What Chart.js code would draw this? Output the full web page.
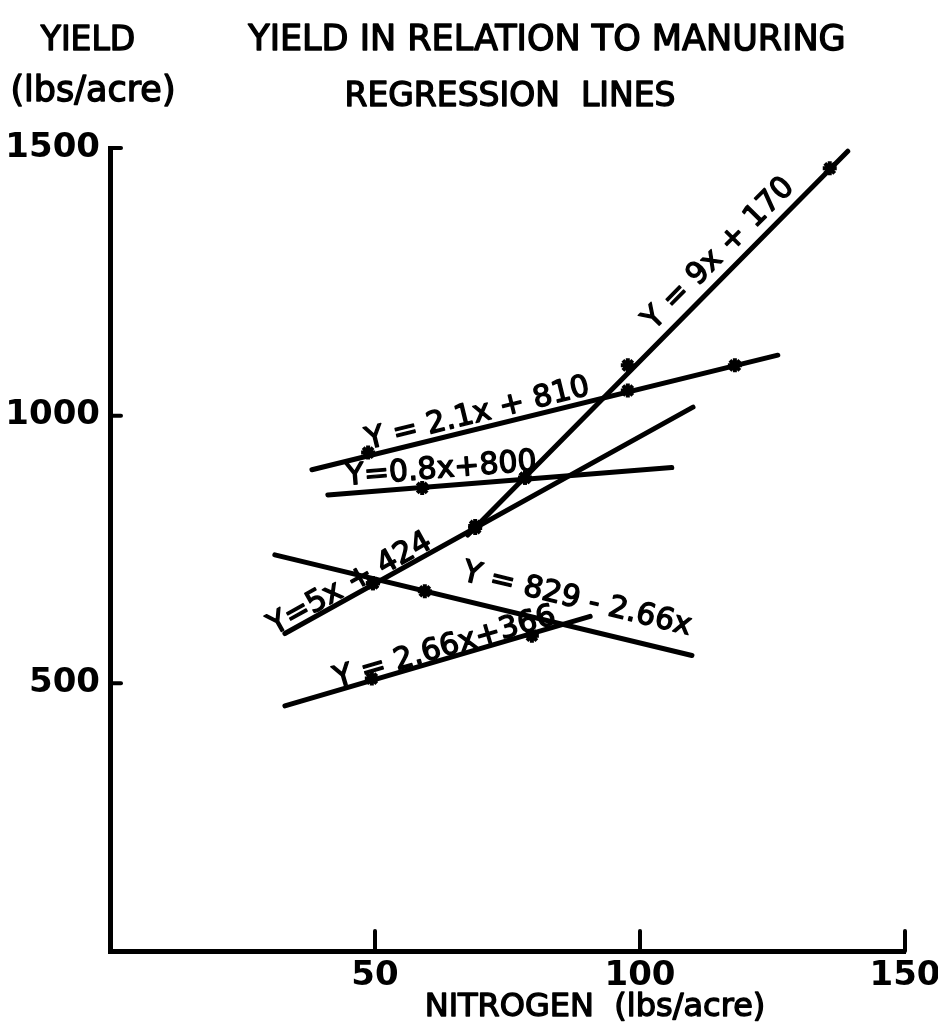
<!DOCTYPE html>
<html>
<head>
<meta charset="utf-8">
<title>Yield in relation to manuring</title>
<script src="https://cdn.jsdelivr.net/npm/chart.js@4.4.1/dist/chart.umd.min.js"></script>
<style>
    html, body { margin: 0; padding: 0; background: #fff; }
    #wrap { width: 938px; height: 1032px; }
</style>
</head>
<body>
<div id="wrap"><canvas id="chart" width="938" height="1032"></canvas></div>
<script>
// Graduations des axes
const xTicks = [50, 100, 150];
const yTicks = [500, 1000, 1500];

const line9x = [{x: 67.5, y: 777}, {x: 139.2, y: 1494}];
const pts9x = [{x: 68.9, y: 794}, {x: 78.3, y: 884}, {x: 97.7, y: 1094}, {x: 135.8, y: 1462}];

const line21x = [{x: 38.1, y: 899}, {x: 126.0, y: 1113}];
const pts21x = [{x: 48.7, y: 931}, {x: 97.7, y: 1047}, {x: 117.9, y: 1094}];

const line08x = [{x: 41.1, y: 852}, {x: 106.0, y: 903}];
const pts08x = [{x: 58.9, y: 865}, {x: 78.3, y: 884}];

const line5x = [{x: 33.0, y: 593}, {x: 110.0, y: 1016}];
const pts5x = [{x: 49.6, y: 687}, {x: 68.9, y: 790}];

const line829 = [{x: 31.1, y: 740}, {x: 109.8, y: 552}];
const pts829 = [{x: 49.6, y: 687}, {x: 59.4, y: 672}];

const line266x = [{x: 33.0, y: 458}, {x: 90.6, y: 625}];
const pts266x = [{x: 49.4, y: 509}, {x: 79.6, y: 589}];

// Equations écrites le long des droites (centre du texte en coordonnées des données)
const lineLabels = [
    {text: 'Y = 9x + 170', x: 114.9, y: 1302, line: line9x},
    {text: 'Y = 2.1x + 810', x: 69.4, y: 1003, line: line21x},
    {text: 'Y=0.8x+800', x: 62.5, y: 899, line: line08x},
    {text: 'Y=5x + 424', x: 45.3, y: 685, line: line5x},
    {text: 'Y = 829 - 2.66x', x: 88.1, y: 656, line: line829},
    {text: 'Y = 2.66x+366', x: 63.2, y: 566, line: line266x}
];

const FONT = '"DejaVu Sans", "Liberation Sans", sans-serif';

function lineDataset(data) {
    return {
        data: data,
        showLine: true,
        borderColor: '#000',
        borderWidth: 5,
        borderCapStyle: 'round',
        pointRadius: 0
    };
}

function pointDataset(data) {
    return {
        data: data,
        showLine: false,
        pointStyle: 'star',
        pointRadius: 7,
        borderColor: '#000',
        backgroundColor: '#000',
        pointBorderWidth: 4
    };
}

// texte un peu épaissi, comme le lettrage au normographe
function drawText(c, text, x, y) {
    c.fillText(text, x, y);
    c.strokeText(text, x, y);
}

// Textes, repères et équations dessinés sur le canevas
const textPlugin = {
    id: 'textPlugin',
    afterDraw(chart) {
        const c = chart.ctx;
        const xs = chart.scales.x;
        const ys = chart.scales.y;
        const area = chart.chartArea;

        c.save();
        c.fillStyle = '#000';
        c.strokeStyle = '#000';
        c.lineCap = 'round';
        c.lineJoin = 'round';

        // petits repères vers l'intérieur
        c.lineWidth = 4;
        yTicks.forEach(v => {
            const py = ys.getPixelForValue(v);
            c.beginPath();
            c.moveTo(area.left, py);
            c.lineTo(area.left + 11, py);
            c.stroke();
        });
        xTicks.forEach(v => {
            const px = xs.getPixelForValue(v);
            c.beginPath();
            c.moveTo(px, area.bottom);
            c.lineTo(px, area.bottom - 20);
            c.stroke();
        });

        // titres
        c.lineWidth = 1.4;
        c.textAlign = 'center';
        c.textBaseline = 'middle';
        c.font = '33px ' + FONT;
        drawText(c, 'YIELD', 88, 41);
        drawText(c, 'REGRESSION  LINES', 510, 97);
        c.font = '35px ' + FONT;
        drawText(c, 'YIELD IN RELATION TO MANURING', 547, 41);
        drawText(c, '(lbs/acre)', 93, 92);
        c.font = '32px ' + FONT;
        drawText(c, 'NITROGEN  (lbs/acre)', 595, 1008);

        // équations
        c.font = '30px ' + FONT;
        lineLabels.forEach(l => {
            const x1 = xs.getPixelForValue(l.line[0].x);
            const y1 = ys.getPixelForValue(l.line[0].y);
            const x2 = xs.getPixelForValue(l.line[1].x);
            const y2 = ys.getPixelForValue(l.line[1].y);
            const angle = Math.atan2(y2 - y1, x2 - x1);
            c.save();
            c.translate(xs.getPixelForValue(l.x), ys.getPixelForValue(l.y));
            c.rotate(angle);
            drawText(c, l.text, 0, 0);
            c.restore();
        });
        c.restore();
    }
};

new Chart(document.getElementById('chart'), {
    type: 'scatter',
    data: {
        datasets: [
            lineDataset(line9x), lineDataset(line21x), lineDataset(line08x),
            lineDataset(line5x), lineDataset(line829), lineDataset(line266x),
            pointDataset(pts9x), pointDataset(pts21x), pointDataset(pts08x),
            pointDataset(pts5x), pointDataset(pts829), pointDataset(pts266x)
        ]
    },
    options: {
        responsive: false,
        animation: false,
        layout: { padding: { top: 148, right: 33, left: 0, bottom: 0 } },
        plugins: {
            legend: { display: false },
            tooltip: { enabled: false }
        },
        scales: {
            x: {
                type: 'linear',
                min: 0,
                max: 150,
                afterBuildTicks: s => { s.ticks = xTicks.map(v => ({value: v})); },
                afterFit: s => { s.height = 81; s.paddingLeft = 0; s.paddingRight = 0; },
                grid: { display: false, drawTicks: false },
                border: { display: true, color: '#000', width: 5 },
                ticks: {
                    color: '#000', padding: 5,
                    font: { family: FONT, size: 34, weight: 'bold' },
                    callback: v => String(v)
                }
            },
            y: {
                type: 'linear',
                min: 0,
                max: 1500,
                afterBuildTicks: s => { s.ticks = yTicks.map(v => ({value: v})); },
                afterFit: s => { s.width = 110; },
                grid: { display: false, drawTicks: false },
                border: { display: true, color: '#000', width: 5 },
                ticks: {
                    color: '#000', padding: 10,
                    font: { family: FONT, size: 34, weight: 'bold' },
                    callback: v => String(v)
                }
            }
        }
    },
    plugins: [textPlugin]
});
</script>
</body>
</html>
